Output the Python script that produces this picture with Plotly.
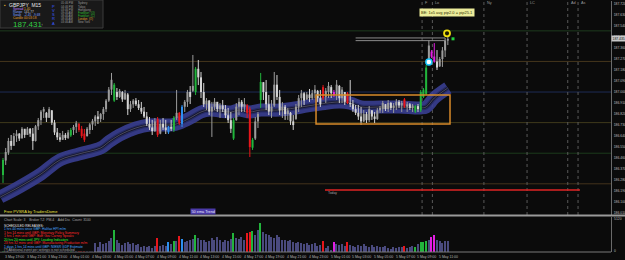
import plotly.graph_objects as go

W, H = 625, 260
FONT = "Liberation Sans"

# ---------------- data ----------------
bar_index = list(range(165))

open_ = [186.322,186.440,186.505,186.600,186.560,186.640,186.660,186.620,186.700,186.650,
         186.700,186.660,186.600,186.720,186.770,186.840,186.830,186.790,186.850,186.750,
         186.670,186.630,186.610,186.650,186.625,186.645,186.690,186.715,186.740,186.700,
         186.660,186.640,186.690,186.735,186.760,186.800,186.780,186.820,186.860,186.930,
         187.020,186.930,187.000,186.960,187.000,186.940,186.980,186.860,186.900,186.930,
         186.900,186.870,186.840,186.800,186.740,186.710,186.680,186.780,186.660,186.740,
         186.710,186.670,186.715,186.690,186.790,186.830,186.740,186.880,186.920,187.000,
         187.010,187.000,187.190,187.120,187.000,186.900,186.930,186.840,186.880,186.920,
         186.860,186.890,186.860,186.810,186.770,186.620,186.770,186.880,186.920,186.880,
         186.890,186.860,186.545,186.620,186.760,186.935,187.080,187.000,186.900,186.840,
         186.890,187.060,186.960,186.850,186.880,186.820,186.830,186.760,186.780,186.880,
         186.950,186.990,186.940,186.980,186.950,186.990,187.010,186.950,187.040,186.960,
         187.000,187.040,187.000,186.980,187.050,186.950,187.000,186.990,186.910,186.900,
         186.860,186.830,186.800,186.760,186.820,186.770,186.850,186.800,186.780,186.850,
         186.860,186.900,186.860,186.910,186.870,186.890,186.920,186.890,186.940,186.880,
         186.900,186.870,186.840,186.885,186.850,186.960,186.985,187.245,187.330,187.290,
         187.250,187.210,187.270,187.340,187.420]
high = [186.461,186.543,186.625,186.649,186.665,186.690,186.665,186.714,186.690,186.714,
        186.706,186.706,186.731,186.788,186.853,186.878,186.837,186.878,186.853,186.772,
        186.706,186.665,186.682,186.665,186.690,186.706,186.731,186.764,186.747,186.723,
        186.698,186.714,186.747,186.780,186.812,186.845,186.829,186.878,186.943,187.041,
        187.156,187.074,187.033,187.025,187.008,187.017,186.992,186.927,186.943,186.951,
        186.935,186.919,186.878,186.837,186.796,186.772,186.788,186.796,186.772,186.788,
        186.772,186.723,186.772,186.804,187.017,186.837,186.894,186.935,187.017,187.049,
        187.303,187.205,187.262,187.164,187.074,186.951,186.935,186.919,186.951,186.919,
        186.910,186.935,186.894,186.870,186.837,186.788,186.910,186.951,186.935,186.951,
        186.902,186.878,186.625,186.796,186.837,187.156,187.082,187.098,186.976,186.935,
        187.164,187.139,187.017,186.919,186.894,186.870,186.837,186.812,186.902,186.976,
        187.017,187.000,187.000,187.025,187.017,187.057,187.017,187.017,187.057,187.033,
        187.082,187.057,187.017,187.098,187.057,187.041,187.000,187.000,187.098,186.935,
        186.894,186.894,186.878,186.853,186.837,186.886,186.853,186.837,186.870,186.886,
        186.927,186.902,186.935,186.919,186.910,186.943,186.935,186.927,186.951,186.919,
        186.910,186.902,186.894,186.902,187.017,187.033,187.221,187.425,187.343,187.400,
        187.343,187.286,187.368,187.442,187.450]
low = [186.257,186.404,186.486,186.527,186.567,186.592,186.600,186.625,186.625,186.649,
       186.633,186.527,186.595,186.690,186.731,186.788,186.755,186.788,186.731,186.649,
       186.608,186.592,186.608,186.608,186.616,186.633,186.649,186.665,186.674,186.625,
       186.592,186.635,186.657,186.690,186.723,186.739,186.755,186.772,186.837,186.919,
       186.976,186.919,186.935,186.951,186.919,186.935,186.812,186.837,186.870,186.886,
       186.853,186.821,186.788,186.723,186.690,186.649,186.674,186.633,186.655,186.690,
       186.657,186.657,186.682,186.674,186.772,186.731,186.714,186.837,186.878,186.902,
       187.000,186.976,187.057,186.951,186.878,186.853,186.812,186.633,186.853,186.837,
       186.788,186.837,186.788,186.747,186.665,186.608,186.765,186.812,186.837,186.837,
       186.788,186.469,186.527,186.608,186.706,186.870,186.935,186.853,186.812,186.788,
       186.878,186.935,186.812,186.788,186.772,186.772,186.731,186.690,186.772,186.837,
       186.878,186.894,186.935,186.919,186.935,186.951,186.919,186.878,186.935,186.910,
       186.951,186.951,186.959,186.935,186.910,186.910,186.894,186.902,186.878,186.837,
       186.812,186.772,186.731,186.755,186.747,186.755,186.772,186.747,186.772,186.829,
       186.829,186.845,186.837,186.853,186.829,186.853,186.870,186.837,186.870,186.837,
       186.853,186.837,186.829,186.837,186.837,186.951,186.976,187.237,187.278,187.240,
       187.180,187.205,187.205,187.286,187.384]
close = [186.445,186.510,186.600,186.560,186.640,186.660,186.620,186.700,186.650,186.700,
         186.660,186.600,186.720,186.770,186.840,186.860,186.790,186.860,186.750,186.670,
         186.630,186.610,186.650,186.625,186.670,186.690,186.715,186.745,186.690,186.640,
         186.610,186.700,186.735,186.765,186.800,186.780,186.820,186.860,186.930,187.020,
         187.100,187.060,186.960,187.010,186.940,186.990,186.860,186.900,186.930,186.900,
         186.870,186.840,186.800,186.740,186.710,186.680,186.760,186.650,186.740,186.710,
         186.690,186.715,186.700,186.790,186.830,186.745,186.880,186.920,187.000,186.960,
         187.050,187.190,187.120,187.000,186.900,186.930,186.840,186.880,186.920,186.860,
         186.890,186.860,186.810,186.770,186.700,186.770,186.880,186.920,186.880,186.900,
         186.830,186.550,186.610,186.760,186.820,187.082,187.000,186.900,186.840,186.880,
         187.060,186.960,186.850,186.880,186.820,186.850,186.760,186.730,186.880,186.950,
         186.990,186.930,186.980,186.950,186.990,187.020,186.950,186.900,186.950,187.010,
         187.050,186.990,186.975,187.060,186.950,187.020,186.920,186.910,186.900,186.860,
         186.830,186.800,186.760,186.820,186.770,186.860,186.800,186.780,186.850,186.870,
         186.910,186.860,186.910,186.870,186.890,186.920,186.890,186.910,186.880,186.900,
         186.870,186.890,186.885,186.860,187.000,187.020,187.200,187.380,187.290,187.250,
         187.200,187.270,187.340,187.420,187.435]
# PVSRA class per bar: n normal, g climax bull, r climax bear, b rising bull, m rising bear
bar_class = ("gnnnnnnnnn" "nnnnnnnnnn" "nnnnngnnrr" "rnnnnnnnnn" "ngnnnnnnnn"
             "nnnnnnnrnn" "nbngnrbnnn" "ngnnnnnnnn" "nnnnngnnnn" "rrgnngnnnn"
             "nnnnnnnnnn" "nnnnnnnnrn" "nnmnnnnrnn" "nnnnnnnnnn" "nnnnnnnnrn"
             "nngngggnmm" "nnnnn")
volume = [1500,1350,1200,1050,1200,900,1050,1200,900,1050,
          1200,1350,1050,1200,1500,1350,1200,1350,1500,1200,
          1050,900,1050,900,1050,1350,1200,1050,1650,1500,
          1650,1200,1050,1200,1350,750,1500,1200,1350,1650,
          2100,3300,1800,1350,1050,1350,1500,1200,1350,1050,
          1200,750,900,750,900,600,900,2100,900,1050,
          900,1500,1200,1650,1650,2400,1950,1500,1650,1800,
          1950,2550,2100,1800,1800,1500,1650,2100,1800,2250,
          1800,1500,1800,1650,1950,2850,2100,1950,2250,1800,
          2850,3000,3150,2550,3300,4350,3000,2700,2550,2250,
          2100,2550,2250,1800,1800,1650,1800,1500,1350,1500,
          1350,1200,1350,1050,1200,1350,900,1050,1650,600,
          900,300,1500,1200,1050,1200,900,1500,1050,900,
          750,1050,900,1200,900,750,1050,750,900,750,
          750,900,600,450,750,600,750,750,900,600,
          750,900,750,1200,1500,1500,1650,1800,2250,2550,
          1800,1650,1350,1650,1650]

ema_index = [-1, 6, 14, 21, 28, 36, 39, 43, 49, 54, 62, 65, 69, 73, 76, 84, 87, 91, 95,
             102, 110, 117, 124, 128, 132, 139, 146, 154, 156, 159, 164]
ema_value = [186.142, 186.224, 186.330, 186.445, 186.494, 186.543, 186.592, 186.649, 186.706,
             186.731, 186.731, 186.747, 186.788, 186.837, 186.853, 186.837, 186.853, 186.837,
             186.853, 186.853, 186.878, 186.902, 186.919, 186.910, 186.878, 186.878, 186.878,
             186.870, 186.878, 186.951, 187.033]

levels = [187.50, 187.25, 187.00, 186.75, 186.50, 186.25]
level_colors = ["#1d3b1d", "#44361c", "#1d2c55", "#3f3a1c", "#1b3a1b", "#44321c"]

price_ticks = [186.01, 186.10, 186.19, 186.28, 186.37, 186.46, 186.55, 186.64, 186.73, 186.82,
               186.91, 187.00, 187.09, 187.18, 187.27, 187.36, 187.45, 187.54, 187.63, 187.72]
last_price = 187.435

time_index = [0, 8, 16, 24, 32, 40, 48, 56, 64, 72, 80, 88, 96, 104, 112, 120, 128, 136, 144, 152, 160]
time_labels = ["3 May 19:00", "3 May 21:00", "3 May 23:00", "4 May 01:00", "4 May 03:00",
               "4 May 05:00", "4 May 07:00", "4 May 09:00", "4 May 11:00", "4 May 13:00",
               "4 May 15:00", "4 May 17:00", "4 May 19:00", "4 May 21:00", "4 May 23:00",
               "5 May 01:00", "5 May 03:00", "5 May 05:00", "5 May 07:00", "5 May 09:00",
               "5 May 11:00"]

session_index = [154.5, 158.3, 177.3, 193.2, 208.2, 212.0]
session_names = ["F", "Lo", "Ny", "LC", "Ad", "As"]

box_index = [115.4, 164.8]
box_price = [186.739, 186.975]
red_line_index = [118.7, 212.7]
red_line_price = 186.20
prev_high_index = [130.0, 163.0]
prev_high_price = [187.442, 187.420]
signal_index = [157.0, 163.7, 165.9]
signal_price = [187.245, 187.480, 187.435]

# ---------------- figure ----------------
def py(p):
    return 1 - p / H

X_RIGHT = 611 / W
fig = go.Figure()

# EMA ribbon
fig.add_trace(go.Scatter(x=ema_index, y=ema_value, mode="lines", hoverinfo="skip",
                         line=dict(width=13, color="rgba(56,62,145,0.9)", shape="spline")))
fig.add_trace(go.Scatter(x=ema_index, y=ema_value, mode="lines", hoverinfo="skip",
                         line=dict(width=5, color="#272c66", shape="spline")))
fig.add_trace(go.Scatter(x=ema_index, y=ema_value, mode="lines", hoverinfo="skip",
                         line=dict(width=2.5, color="#15162a", shape="spline")))
fig.add_trace(go.Scatter(x=ema_index, y=ema_value, mode="lines", hoverinfo="skip",
                         line=dict(width=0.6, color="#6c6c84", shape="spline")))

candle_colors = {"up": "#9c9c9c", "dn": "#d4d4d4", "g": "#22b43c", "r": "#e8161b",
                 "b": "#2d8ff0", "m": "#e31ee3"}
vol_colors = {"n": "#4a4a7e", "g": "#22b43c", "r": "#e8161b", "b": "#2d8ff0", "m": "#e31ee3"}

groups = {}
for i in bar_index:
    c = bar_class[i]
    if c == "n":
        c = "up" if close[i] >= open_[i] else "dn"
    groups.setdefault(c, []).append(i)

for c, idxs in groups.items():
    wx, wy, bx, by = [], [], [], []
    for i in idxs:
        wx += [i, i, None]
        wy += [low[i], high[i], None]
        bx += [i, i, None]
        by += [open_[i], close[i], None]
    fig.add_trace(go.Scatter(x=wx, y=wy, mode="lines", hoverinfo="skip",
                             line=dict(width=1, color=candle_colors[c])))
    fig.add_trace(go.Scatter(x=bx, y=by, mode="lines", hoverinfo="skip",
                             line=dict(width=2, color=candle_colors[c])))

# signals
fig.add_trace(go.Scatter(x=[signal_index[0]], y=[signal_price[0]], mode="markers",
                         marker=dict(symbol="circle", size=6, color="#ffffff",
                                     line=dict(width=1.5, color="#19c8ff"))))
fig.add_trace(go.Scatter(x=[signal_index[1]], y=[signal_price[1]], mode="markers",
                         marker=dict(symbol="circle", size=6, color="#1a1a00",
                                     line=dict(width=1.8, color="#f0e010"))))
fig.add_trace(go.Scatter(x=[signal_index[2]], y=[signal_price[2]], mode="markers",
                         marker=dict(symbol="square", size=3, color="#22d040")))

# volume
fig.add_trace(go.Bar(x=bar_index, y=volume, xaxis="x2", yaxis="y2", width=0.52,
                     marker=dict(color=[vol_colors[c] for c in bar_class], line=dict(width=0))))

shapes = []
for lv, col in zip(levels, level_colors):
    shapes.append(dict(type="line", xref="paper", yref="y", x0=0, x1=X_RIGHT, y0=lv, y1=lv,
                       line=dict(color=col, width=1), layer="below"))
for si in session_index:
    shapes.append(dict(type="line", xref="x", yref="paper", x0=si, x1=si, y0=py(215), y1=1,
                       line=dict(color="#5a5a5a", width=1, dash="dot"), layer="below"))
shapes.append(dict(type="rect", xref="x", yref="y", x0=box_index[0], x1=box_index[1],
                   y0=box_price[0], y1=box_price[1], line=dict(color="#d88a2a", width=1.5)))
shapes.append(dict(type="line", xref="x", yref="y", x0=red_line_index[0], x1=red_line_index[1],
                   y0=red_line_price, y1=red_line_price, line=dict(color="#e02424", width=1.5)))
for pp in prev_high_price:
    shapes.append(dict(type="line", xref="x", yref="y", x0=prev_high_index[0], x1=prev_high_index[1],
                       y0=pp, y1=pp, line=dict(color="#8c8c8c", width=1)))
# pane separator and frames
shapes.append(dict(type="line", xref="paper", yref="paper", x0=0, x1=1, y0=py(215.5), y1=py(215.5),
                   line=dict(color="#9a9a9a", width=2)))
shapes.append(dict(type="line", xref="paper", yref="paper", x0=0, x1=X_RIGHT, y0=py(252), y1=py(252),
                   line=dict(color="#7a7a7a", width=1)))
# top-left info panel
shapes.append(dict(type="rect", xref="paper", yref="paper", x0=0, x1=103 / W, y0=py(28), y1=1,
                   fillcolor="#191919", line=dict(color="#3c3c3c", width=1), layer="above"))
# scheduled releases panel background
shapes.append(dict(type="rect", xref="paper", yref="paper", x0=0, x1=94 / W, y0=py(251.5), y1=py(217),
                   fillcolor="#0b0b0b", line=dict(width=0), layer="above"))

ann = []
def label(px, pyy, text, color, size=4.2, anchor="left", pad=0, **kw):
    ann.append(dict(xref="paper", yref="paper", x=px / W, y=py(pyy), text=text, showarrow=False,
                    font=dict(color=color, size=size, family=FONT), xanchor=anchor,
                    yanchor="middle", borderpad=pad, **kw))

# info panel text
label(3, 4.5, "▪", "#d0a030", 5)
label(8, 4.5, "GBPJPY  M15", "#e8e8e8", 5)
for k, (name, val, cn, cv) in enumerate([("Spread", "1.40", "#c080ff", "#e0b040"),
                                          ("Range", "141.77", "#7fa0ff", "#c8c8c8"),
                                          ("Swap", "-2.45  -9.68", "#7fa0ff", "#7fa0ff"),
                                          ("Candle", "00:03:18", "#e0a030", "#e0a030")]):
    label(12, 9 + 3.1 * k, name, cn, 3.2)
    label(23, 9 + 3.1 * k, val, cv, 3.2)
label(12, 24.5, "187.431", "#33cc44", 8)
label(40, 25, "↑", "#bbbbbb", 4)
for k, ch in enumerate("PVSRA"):
    label(51, 6 + 4.3 * k, ch, "#3c5cff", 4.0)
sessions_panel = [("05:46 PM", "Sydney", "#9a9a9a"), ("04:46 PM", "Tokyo", "#9a9a9a"),
                  ("03:46 PM", "Hongkong", "#9a9a9a"), ("09:46 AM", "Frankfurt  (O)", "#30c030"),
                  ("08:46 AM", "Frankfurt  (C)", "#30c030"), ("08:46 AM", "London  (O)", "#e0a030"),
                  ("03:46 AM", "New York", "#9a9a9a")]
for k, (t, n, c) in enumerate(sessions_panel):
    label(60, 3.5 + 3.1 * k, t, "#9a9a9a", 2.8)
    label(77, 3.5 + 3.1 * k, n, c, 2.8)

# session labels at top
for si, nm in zip(session_index, session_names):
    ann.append(dict(xref="x", yref="paper", x=si, y=py(3.5), text=nm, showarrow=False, xanchor="left",
                    xshift=1, yanchor="middle", font=dict(color="#9a9a9a", size=3.8, family=FONT)))

# yellow info label
ann.append(dict(xref="paper", yref="paper", x=447 / W, y=py(12.5),
                text="BE: 1x5 avg pip2.0 = pip25.1", showarrow=False, xanchor="center",
                yanchor="middle", bgcolor="#ecec9a", borderpad=1,
                font=dict(color="#303000", size=4, family=FONT)))
# red line label
label(327, 193, "Today", "#a0a0a0", 3.4)

# current price box
ann.append(dict(xref="paper", yref="y", x=X_RIGHT, y=last_price, text="187.435", showarrow=False,
                xanchor="left", yanchor="middle", bgcolor="#c8c8c8", borderpad=0.5,
                font=dict(color="#111111", size=3.4, family=FONT)))
# volume scale labels
label(613, 219, "5120", "#bdbdbd", 3.4)
label(613, 251, "0", "#bdbdbd", 3.4)

# bottom-left texts
label(3, 211.5, "Free PVSRA by TradersDome", "#e8e040", 4.0)
label(202.5, 211.5, "50 ema Trend", "#e8e8ff", 3.8, anchor="center", pad=0.5, bgcolor="#4b3aa8")
label(3, 220, "Chart Scale: 3    Broker TZ: PM-4    Add Div.  Count: 3100", "#a8a8a8", 3.4)
sched = [("SCHEDULED RELEASES:", "#e6e6e6"),
         ("1 hrs 44 mins since GBP: Halifax HPI m/m", "#4aa8ff"),
         ("1 hrs 14 mins until GBP: Monetary Policy Summary", "#ff2a2a"),
         ("1 hrs 1 min until GBP: BoE Gov Carney Speaks", "#ff2a2a"),
         ("20 hrs 20 mins until JPY: Leading Indicators", "#30ff30"),
         ("23 hrs 32 mins until GBP: Manufacturing Production m/m", "#ff2a2a"),
         ("1 days 1 hrs 14 mins until GBP: NIESR GDP Estimate", "#4aa8ff"),
         ("[?] Additional event per settings is not scheduled", "#a8a8a8")]
for k, (t, c) in enumerate(sched):
    label(3, 225.5 + 3.55 * k, t, c, 3.3)

# time axis labels
for ti, tl in zip(time_index, time_labels):
    ann.append(dict(xref="x", yref="paper", x=ti, y=py(256.5), text=tl, showarrow=False,
                    xanchor="left", yanchor="middle", font=dict(color="#b4b4b4", size=3.5, family=FONT)))

fig.update_layout(
    width=W, height=H, margin=dict(l=0, r=0, t=0, b=0),
    paper_bgcolor="#0b0b0b", plot_bgcolor="#0b0b0b", showlegend=False,
    shapes=shapes, annotations=ann, bargap=0,
    xaxis=dict(domain=[0, X_RIGHT], range=[-1.106, 224.15], visible=False),
    xaxis2=dict(domain=[0, X_RIGHT], range=[-1.106, 224.15], visible=False, anchor="y2", matches="x"),
    yaxis=dict(domain=[py(215), py(1)], range=[185.995, 187.744], side="right", anchor="x",
               tickvals=price_ticks, ticktext=[f"{v:.3f}" for v in price_ticks],
               tickfont=dict(color="#bdbdbd", size=3.4, family=FONT), showgrid=False, zeroline=False,
               showline=True, linecolor="#6a6a6a", ticks="", ticklabelstandoff=1,
               automargin=False),
    yaxis2=dict(domain=[py(252), py(217)], range=[0, 5250], side="right", anchor="x2",
                showticklabels=False, showgrid=False, zeroline=False, showline=True,
                linecolor="#6a6a6a", automargin=False),
)

fig.write_html("out.html")
